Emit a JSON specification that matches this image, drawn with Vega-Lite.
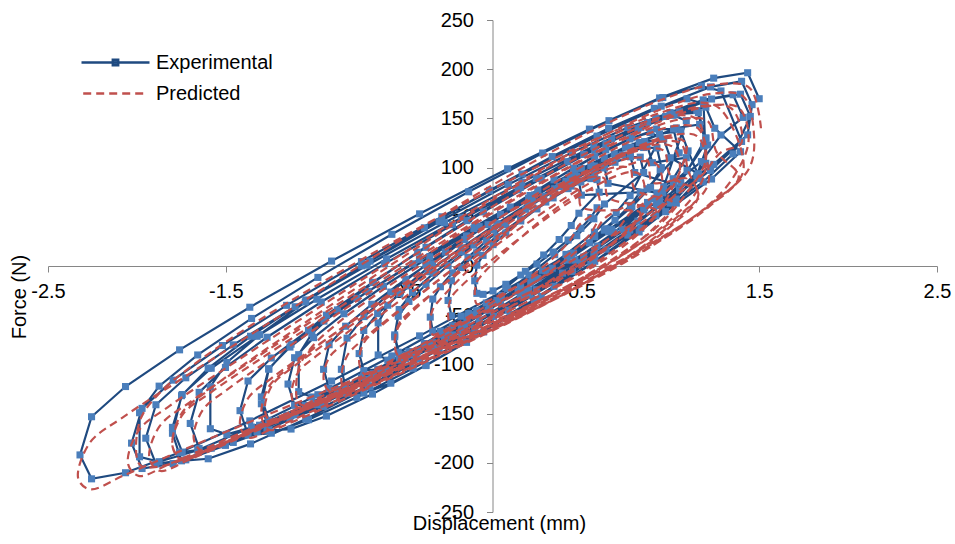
{
  "$schema": "https://vega.github.io/schema/vega-lite/v6.json",
  "width": 889,
  "height": 492,
  "autosize": {"type": "none"},
  "padding": {"left": 48, "top": 20, "right": 18, "bottom": 32},
  "background": "white",
  "config": {"view": {"stroke": null}, "font": "Liberation Sans"},
  "datasets": {
    "exp": [
      {"x":1.5,"y":170},{"x":1.435,"y":196.4},{"x":1.244,"y":190.9},{"x":0.94,"y":170.8},{"x":0.545,"y":139.1},{"x":0.085,"y":98.8},{"x":-0.41,"y":53},{"x":-0.905,"y":5},{"x":-1.365,"y":-41.9},{"x":-1.76,"y":-85.2},{"x":-2.064,"y":-122.5},{"x":-2.255,"y":-153.2},{"x":-2.32,"y":-192},{"x":-2.255,"y":-216.3},{"x":-2.064,"y":-210.1},{"x":-1.76,"y":-189.5},{"x":-1.365,"y":-157.4},{"x":-0.905,"y":-116.9},{"x":-0.41,"y":-71},{"x":0.085,"y":-23.1},{"x":0.545,"y":23.6},{"x":0.94,"y":66.5},{"x":1.244,"y":103.3},{"x":1.435,"y":133.3},
      {"x":1.46,"y":164},{"x":1.401,"y":187.7},{"x":1.226,"y":182},{"x":0.949,"y":162.4},{"x":0.588,"y":132},{"x":0.167,"y":93.5},{"x":-0.285,"y":50},{"x":-0.737,"y":4.5},{"x":-1.158,"y":-40},{"x":-1.519,"y":-80.8},{"x":-1.796,"y":-116},{"x":-1.971,"y":-144.7},{"x":-2.03,"y":-180},{"x":-1.971,"y":-205.8},{"x":-1.796,"y":-200.8},{"x":-1.519,"y":-181.7},{"x":-1.158,"y":-151.7},{"x":-0.737,"y":-113.4},{"x":-0.285,"y":-70},{"x":0.167,"y":-24.4},{"x":0.588,"y":20.3},{"x":0.949,"y":61.5},{"x":1.226,"y":97.2},{"x":1.401,"y":126.6},
      {"x":1.285,"y":177.9},{"x":1.175,"y":182.9},{"x":0.958,"y":171.2},{"x":0.655,"y":147.7},{"x":0.282,"y":114.8},{"x":-0.134,"y":75.4},{"x":-0.566,"y":32.2},{"x":-0.982,"y":-11.6},{"x":-1.355,"y":-53.3},{"x":-1.658,"y":-90.4},{"x":-1.875,"y":-122.1},{"x":-1.985,"y":-149.1},{"x":-1.985,"y":-193.9},{"x":-1.875,"y":-198.9},{"x":-1.658,"y":-187.2},{"x":-1.355,"y":-163.7},{"x":-0.982,"y":-130.8},{"x":-0.566,"y":-91.4},{"x":-0.134,"y":-48.2},{"x":0.282,"y":-4.4},{"x":0.655,"y":37.3},{"x":0.958,"y":74.4},{"x":1.175,"y":106.1},{"x":1.285,"y":133.1},
      {"x":1.41,"y":151},{"x":1.353,"y":174},{"x":1.185,"y":168.8},{"x":0.918,"y":150.3},{"x":0.57,"y":121.6},{"x":0.165,"y":85.2},{"x":-0.27,"y":44},{"x":-0.705,"y":0.8},{"x":-1.11,"y":-41.4},{"x":-1.458,"y":-80.1},{"x":-1.725,"y":-113.6},{"x":-1.893,"y":-141},{"x":-1.95,"y":-175},{"x":-1.893,"y":-201.1},{"x":-1.725,"y":-197},{"x":-1.458,"y":-179.3},{"x":-1.11,"y":-151.2},{"x":-0.705,"y":-115.1},{"x":-0.27,"y":-74},{"x":0.165,"y":-30.7},{"x":0.57,"y":11.8},{"x":0.918,"y":51.1},{"x":1.185,"y":85.4},{"x":1.353,"y":113.9},
      {"x":1.45,"y":152},{"x":1.395,"y":174.6},{"x":1.232,"y":169.7},{"x":0.974,"y":152},{"x":0.638,"y":124.2},{"x":0.246,"y":89},{"x":-0.175,"y":49},{"x":-0.596,"y":7.2},{"x":-0.988,"y":-33.8},{"x":-1.324,"y":-71.4},{"x":-1.582,"y":-103.9},{"x":-1.745,"y":-130.6},{"x":-1.8,"y":-164},{"x":-1.745,"y":-189.1},{"x":-1.582,"y":-185.2},{"x":-1.324,"y":-168.2},{"x":-0.988,"y":-140.9},{"x":-0.596,"y":-105.9},{"x":-0.175,"y":-66},{"x":0.246,"y":-24.1},{"x":0.638,"y":17.1},{"x":0.974,"y":55.2},{"x":1.232,"y":88.4},{"x":1.395,"y":116.1},
      {"x":1.25,"y":140},{"x":1.2,"y":161.4},{"x":1.052,"y":156.7},{"x":0.818,"y":139.8},{"x":0.513,"y":113.4},{"x":0.157,"y":80},{"x":-0.225,"y":42},{"x":-0.607,"y":2.2},{"x":-0.963,"y":-36.6},{"x":-1.268,"y":-72.4},{"x":-1.502,"y":-103.1},{"x":-1.65,"y":-128.4},{"x":-1.7,"y":-160},{"x":-1.65,"y":-185.4},{"x":-1.502,"y":-182.3},{"x":-1.268,"y":-166.6},{"x":-0.963,"y":-140.9},{"x":-0.607,"y":-107.9},{"x":-0.225,"y":-70},{"x":0.157,"y":-30.1},{"x":0.513,"y":9.1},{"x":0.818,"y":45.6},{"x":1.052,"y":77.5},{"x":1.2,"y":104.4},
      {"x":1.187,"y":164.7},{"x":1.094,"y":169.9},{"x":0.91,"y":160.2},{"x":0.653,"y":140},{"x":0.336,"y":111.2},{"x":-0.017,"y":76.8},{"x":-0.383,"y":38.8},{"x":-0.736,"y":0.2},{"x":-1.053,"y":-36.6},{"x":-1.31,"y":-69.8},{"x":-1.494,"y":-98.1},{"x":-1.587,"y":-122.7},{"x":-1.587,"y":-165.4},{"x":-1.494,"y":-171.1},{"x":-1.31,"y":-161.8},{"x":-1.053,"y":-141.8},{"x":-0.736,"y":-113.2},{"x":-0.383,"y":-78.8},{"x":-0.017,"y":-40.8},{"x":0.336,"y":-2.2},{"x":0.653,"y":34.8},{"x":0.91,"y":68.2},{"x":1.094,"y":96.9},{"x":1.187,"y":122},
      {"x":1.2,"y":130},{"x":1.149,"y":158},{"x":0.999,"y":155.9},{"x":0.761,"y":140.8},{"x":0.45,"y":115.5},{"x":0.089,"y":82.8},{"x":-0.3,"y":45},{"x":-0.689,"y":5},{"x":-1.05,"y":-34.5},{"x":-1.361,"y":-71.4},{"x":-1.599,"y":-103.9},{"x":-1.749,"y":-131.8},{"x":-1.8,"y":-170},{"x":-1.749,"y":-198},{"x":-1.599,"y":-195.9},{"x":-1.361,"y":-180.8},{"x":-1.05,"y":-155.5},{"x":-0.689,"y":-122.8},{"x":-0.3,"y":-85},{"x":0.089,"y":-45},{"x":0.45,"y":-5.5},{"x":0.761,"y":31.4},{"x":0.999,"y":63.9},{"x":1.149,"y":91.8},
      {"x":1.21,"y":123},{"x":1.165,"y":143.9},{"x":1.034,"y":140.3},{"x":0.825,"y":125.5},{"x":0.553,"y":102.1},{"x":0.236,"y":72.2},{"x":-0.105,"y":38},{"x":-0.446,"y":2.2},{"x":-0.763,"y":-32.9},{"x":-1.035,"y":-65.3},{"x":-1.244,"y":-93.5},{"x":-1.375,"y":-116.9},{"x":-1.42,"y":-147},{"x":-1.375,"y":-171.9},{"x":-1.244,"y":-169.9},{"x":-1.035,"y":-156.2},{"x":-0.763,"y":-133.5},{"x":-0.446,"y":-104},{"x":-0.105,"y":-70},{"x":0.236,"y":-34},{"x":0.553,"y":1.5},{"x":0.825,"y":34.6},{"x":1.034,"y":63.9},{"x":1.165,"y":88.9},
      {"x":1.1,"y":117},{"x":1.059,"y":137.2},{"x":0.939,"y":134.2},{"x":0.748,"y":120.8},{"x":0.5,"y":99.2},{"x":0.211,"y":71.6},{"x":-0.1,"y":40},{"x":-0.411,"y":6.8},{"x":-0.7,"y":-25.8},{"x":-0.948,"y":-56},{"x":-1.139,"y":-82.4},{"x":-1.259,"y":-104.4},{"x":-1.3,"y":-133},{"x":-1.259,"y":-156.8},{"x":-1.139,"y":-155.2},{"x":-0.948,"y":-142.7},{"x":-0.7,"y":-121.7},{"x":-0.411,"y":-94.5},{"x":-0.1,"y":-63},{"x":0.211,"y":-29.7},{"x":0.5,"y":3.3},{"x":0.748,"y":34.1},{"x":0.939,"y":61.4},{"x":1.059,"y":84.8},
      {"x":1.2,"y":130},{"x":1.158,"y":155.9},{"x":1.033,"y":154.3},{"x":0.834,"y":140.9},{"x":0.575,"y":118.4},{"x":0.274,"y":89},{"x":-0.05,"y":55},{"x":-0.374,"y":19},{"x":-0.675,"y":-16.6},{"x":-0.934,"y":-49.9},{"x":-1.133,"y":-79.5},{"x":-1.258,"y":-104.9},{"x":-1.3,"y":-140},{"x":-1.258,"y":-167},{"x":-1.133,"y":-165.7},{"x":-0.934,"y":-152.5},{"x":-0.675,"y":-130.2},{"x":-0.374,"y":-100.9},{"x":-0.05,"y":-67},{"x":0.274,"y":-30.9},{"x":0.575,"y":4.8},{"x":0.834,"y":38.3},{"x":1.033,"y":68.1},{"x":1.158,"y":93.8},
      {"x":1,"y":110},{"x":0.963,"y":129},{"x":0.856,"y":126.4},{"x":0.685,"y":114.1},{"x":0.463,"y":94.4},{"x":0.203,"y":69},{"x":-0.075,"y":40},{"x":-0.353,"y":9.4},{"x":-0.613,"y":-20.6},{"x":-0.835,"y":-48.5},{"x":-1.006,"y":-72.8},{"x":-1.113,"y":-93.2},{"x":-1.15,"y":-120},{"x":-1.113,"y":-141.6},{"x":-1.006,"y":-140},{"x":-0.835,"y":-128.4},{"x":-0.613,"y":-109.1},{"x":-0.353,"y":-84},{"x":-0.075,"y":-55},{"x":0.203,"y":-24.4},{"x":0.463,"y":5.9},{"x":0.685,"y":34.2},{"x":0.856,"y":59.2},{"x":0.963,"y":80.6},
      {"x":1.09,"y":147.7},{"x":1.016,"y":153.1},{"x":0.872,"y":145.8},{"x":0.67,"y":129.4},{"x":0.421,"y":106},{"x":0.144,"y":77.5},{"x":-0.144,"y":46.1},{"x":-0.421,"y":14},{"x":-0.67,"y":-16.8},{"x":-0.872,"y":-44.6},{"x":-1.016,"y":-68.7},{"x":-1.09,"y":-90.1},{"x":-1.09,"y":-127.7},{"x":-1.016,"y":-133.1},{"x":-0.872,"y":-125.8},{"x":-0.67,"y":-109.4},{"x":-0.421,"y":-86},{"x":-0.144,"y":-57.5},{"x":0.144,"y":-26.1},{"x":0.421,"y":6},{"x":0.67,"y":36.8},{"x":0.872,"y":64.6},{"x":1.016,"y":88.7},{"x":1.09,"y":110.1},
      {"x":0.9,"y":105},{"x":0.869,"y":122.8},{"x":0.776,"y":120.6},{"x":0.629,"y":109.5},{"x":0.438,"y":91.6},{"x":0.215,"y":68.5},{"x":-0.025,"y":42},{"x":-0.265,"y":14.1},{"x":-0.488,"y":-13.4},{"x":-0.679,"y":-38.9},{"x":-0.826,"y":-61.2},{"x":-0.919,"y":-80},{"x":-0.95,"y":-105},{"x":-0.919,"y":-124.3},{"x":-0.826,"y":-122.7},{"x":-0.679,"y":-112},{"x":-0.488,"y":-94.4},{"x":-0.265,"y":-71.4},{"x":-0.025,"y":-45},{"x":0.215,"y":-17},{"x":0.438,"y":10.6},{"x":0.629,"y":36.4},{"x":0.776,"y":59.1},{"x":0.869,"y":78.5},
      {"x":1.05,"y":115},{"x":1.018,"y":139.3},{"x":0.923,"y":139.2},{"x":0.772,"y":129.1},{"x":0.575,"y":111.2},{"x":0.346,"y":87.6},{"x":0.1,"y":60},{"x":-0.146,"y":30.6},{"x":-0.375,"y":1.2},{"x":-0.572,"y":-26.5},{"x":-0.723,"y":-51.4},{"x":-0.818,"y":-73.3},{"x":-0.85,"y":-105},{"x":-0.818,"y":-129.3},{"x":-0.723,"y":-129.2},{"x":-0.572,"y":-119.1},{"x":-0.375,"y":-101.2},{"x":-0.146,"y":-77.6},{"x":0.1,"y":-50},{"x":0.346,"y":-20.6},{"x":0.575,"y":8.8},{"x":0.772,"y":36.5},{"x":0.923,"y":61.4},{"x":1.018,"y":83.3},
      {"x":0.8,"y":95},{"x":0.774,"y":112.3},{"x":0.696,"y":111},{"x":0.573,"y":101.6},{"x":0.413,"y":86.2},{"x":0.226,"y":66.1},{"x":0.025,"y":43},{"x":-0.176,"y":18.5},{"x":-0.363,"y":-5.8},{"x":-0.523,"y":-28.4},{"x":-0.646,"y":-48.4},{"x":-0.724,"y":-65.5},{"x":-0.75,"y":-89},{"x":-0.724,"y":-106.3},{"x":-0.646,"y":-105},{"x":-0.523,"y":-95.6},{"x":-0.363,"y":-80.2},{"x":-0.176,"y":-60.1},{"x":0.025,"y":-37},{"x":0.226,"y":-12.5},{"x":0.413,"y":11.8},{"x":0.573,"y":34.4},{"x":0.696,"y":54.4},{"x":0.774,"y":71.5},
      {"x":0.943,"y":130.4},{"x":0.889,"y":135.7},{"x":0.784,"y":130.4},{"x":0.637,"y":118},{"x":0.456,"y":99.6},{"x":0.255,"y":77.2},{"x":0.045,"y":52.4},{"x":-0.156,"y":26.8},{"x":-0.337,"y":2.2},{"x":-0.484,"y":-20.2},{"x":-0.589,"y":-39.9},{"x":-0.643,"y":-57.8},{"x":-0.643,"y":-90.4},{"x":-0.589,"y":-95.7},{"x":-0.484,"y":-90.4},{"x":-0.337,"y":-78},{"x":-0.156,"y":-59.6},{"x":0.045,"y":-37.2},{"x":0.255,"y":-12.4},{"x":0.456,"y":13.2},{"x":0.637,"y":37.8},{"x":0.784,"y":60.2},{"x":0.889,"y":79.9},{"x":0.943,"y":97.8},
      {"x":0.95,"y":100},{"x":0.925,"y":120},{"x":0.85,"y":120.4},{"x":0.73,"y":112.9},{"x":0.575,"y":99.4},{"x":0.394,"y":81.2},{"x":0.2,"y":60},{"x":0.006,"y":37.2},{"x":-0.175,"y":14.4},{"x":-0.33,"y":-7.3},{"x":-0.45,"y":-26.8},{"x":-0.525,"y":-44.2},{"x":-0.55,"y":-70},{"x":-0.525,"y":-90},{"x":-0.45,"y":-90.4},{"x":-0.33,"y":-82.9},{"x":-0.175,"y":-69.4},{"x":0.006,"y":-51.2},{"x":0.2,"y":-30},{"x":0.394,"y":-7.2},{"x":0.575,"y":15.6},{"x":0.73,"y":37.3},{"x":0.85,"y":56.8},{"x":0.925,"y":74.2},
      {"x":0.65,"y":84},{"x":0.63,"y":99.6},{"x":0.57,"y":99},{"x":0.474,"y":91.4},{"x":0.35,"y":78.5},{"x":0.205,"y":61.6},{"x":0.05,"y":42},{"x":-0.105,"y":21.2},{"x":-0.25,"y":0.5},{"x":-0.374,"y":-18.8},{"x":-0.47,"y":-36},{"x":-0.53,"y":-51},{"x":-0.55,"y":-72},{"x":-0.53,"y":-87.6},{"x":-0.47,"y":-87},{"x":-0.374,"y":-79.4},{"x":-0.25,"y":-66.5},{"x":-0.105,"y":-49.6},{"x":0.05,"y":-30},{"x":0.205,"y":-9.2},{"x":0.35,"y":11.5},{"x":0.474,"y":30.8},{"x":0.57,"y":48},{"x":0.63,"y":63},
      {"x":0.85,"y":95},{"x":0.831,"y":110.6},{"x":0.776,"y":111},{"x":0.689,"y":105.4},{"x":0.575,"y":95.1},{"x":0.442,"y":81.2},{"x":0.3,"y":65},{"x":0.158,"y":47.6},{"x":0.025,"y":30.1},{"x":-0.089,"y":13.4},{"x":-0.176,"y":-1.6},{"x":-0.231,"y":-15},{"x":-0.25,"y":-35},{"x":-0.231,"y":-50.6},{"x":-0.176,"y":-51},{"x":-0.089,"y":-45.4},{"x":0.025,"y":-35.1},{"x":0.158,"y":-21.2},{"x":0.3,"y":-5},{"x":0.442,"y":12.4},{"x":0.575,"y":29.9},{"x":0.689,"y":46.6},{"x":0.776,"y":61.6},{"x":0.831,"y":75},
      {"x":0.5,"y":72},{"x":0.486,"y":86.2},{"x":0.443,"y":86.3},{"x":0.375,"y":80.7},{"x":0.288,"y":70.8},{"x":0.185,"y":57.6},{"x":0.075,"y":42},{"x":-0.035,"y":25.4},{"x":-0.138,"y":8.8},{"x":-0.225,"y":-6.9},{"x":-0.293,"y":-21.1},{"x":-0.336,"y":-33.6},{"x":-0.35,"y":-52},{"x":-0.336,"y":-66.2},{"x":-0.293,"y":-66.3},{"x":-0.225,"y":-60.7},{"x":-0.138,"y":-50.8},{"x":-0.035,"y":-37.6},{"x":0.075,"y":-22},{"x":0.185,"y":-5.4},{"x":0.288,"y":11.2},{"x":0.375,"y":26.9},{"x":0.443,"y":41.1},{"x":0.486,"y":53.6},
      {"x":0.6,"y":75},{"x":0.588,"y":87.8},{"x":0.553,"y":88.8},{"x":0.497,"y":85.3},{"x":0.425,"y":78.6},{"x":0.341,"y":69.2},{"x":0.25,"y":58},{"x":0.159,"y":45.8},{"x":0.075,"y":33.6},{"x":0.003,"y":21.7},{"x":-0.053,"y":10.8},{"x":-0.088,"y":0.8},{"x":-0.1,"y":-15},{"x":-0.088,"y":-27.8},{"x":-0.053,"y":-28.8},{"x":0.003,"y":-25.3},{"x":0.075,"y":-18.6},{"x":0.159,"y":-9.2},{"x":0.25,"y":2},{"x":0.341,"y":14.2},{"x":0.425,"y":26.4},{"x":0.497,"y":38.3},{"x":0.553,"y":49.2},{"x":0.588,"y":59.2}
    ],
    "pred": [
      {"x":1.51,"y":140},{"x":1.445,"y":181.1},{"x":1.253,"y":184.5},{"x":0.947,"y":168.7},{"x":0.55,"y":136.5},{"x":0.087,"y":91.3},{"x":-0.41,"y":38},{"x":-0.907,"y":-17.9},{"x":-1.37,"y":-70.9},{"x":-1.767,"y":-116.9},{"x":-2.073,"y":-153.1},{"x":-2.265,"y":-179.7},{"x":-2.33,"y":-216},{"x":-2.265,"y":-226.9},{"x":-2.073,"y":-212.8},{"x":-1.767,"y":-188.9},{"x":-1.37,"y":-158.9},{"x":-0.907,"y":-124.8},{"x":-0.41,"y":-88},{"x":0.087,"y":-49.6},{"x":0.55,"y":-10.3},{"x":0.947,"y":28.7},{"x":1.253,"y":66},{"x":1.445,"y":99.9},
      {"x":1.47,"y":135},{"x":1.41,"y":172.4},{"x":1.234,"y":175},{"x":0.954,"y":159.7},{"x":0.59,"y":129.2},{"x":0.166,"y":86.8},{"x":-0.29,"y":37},{"x":-0.746,"y":-15.2},{"x":-1.17,"y":-64.8},{"x":-1.534,"y":-107.9},{"x":-1.814,"y":-142},{"x":-1.99,"y":-167.2},{"x":-2.05,"y":-201},{"x":-1.99,"y":-213.3},{"x":-1.814,"y":-200.9},{"x":-1.534,"y":-178.9},{"x":-1.17,"y":-150.6},{"x":-0.746,"y":-118.2},{"x":-0.29,"y":-83},{"x":0.166,"y":-46.2},{"x":0.59,"y":-8.6},{"x":0.954,"y":28.7},{"x":1.234,"y":64.1},{"x":1.41,"y":96.3},
      {"x":1.285,"y":158.9},{"x":1.175,"y":166.1},{"x":0.958,"y":156.5},{"x":0.655,"y":134.8},{"x":0.282,"y":103.6},{"x":-0.134,"y":65.7},{"x":-0.566,"y":23.7},{"x":-0.982,"y":-19},{"x":-1.355,"y":-60},{"x":-1.658,"y":-97.3},{"x":-1.875,"y":-129.5},{"x":-1.985,"y":-158.3},{"x":-1.985,"y":-201.7},{"x":-1.875,"y":-203.8},{"x":-1.658,"y":-190.9},{"x":-1.355,"y":-167},{"x":-0.982,"y":-134.4},{"x":-0.566,"y":-95.8},{"x":-0.134,"y":-53.8},{"x":0.282,"y":-11.8},{"x":0.655,"y":27.8},{"x":0.958,"y":62.9},{"x":1.175,"y":91.8},{"x":1.285,"y":115.5},
      {"x":1.4,"y":125},{"x":1.343,"y":160.2},{"x":1.177,"y":162.4},{"x":0.912,"y":147.6},{"x":0.568,"y":118.5},{"x":0.166,"y":78.3},{"x":-0.265,"y":31},{"x":-0.696,"y":-18.5},{"x":-1.098,"y":-65.7},{"x":-1.442,"y":-106.6},{"x":-1.707,"y":-139},{"x":-1.873,"y":-163},{"x":-1.93,"y":-195},{"x":-1.873,"y":-208.1},{"x":-1.707,"y":-196.9},{"x":-1.442,"y":-176.2},{"x":-1.098,"y":-149.5},{"x":-0.696,"y":-118.6},{"x":-0.265,"y":-85},{"x":0.166,"y":-49.8},{"x":0.568,"y":-13.7},{"x":0.912,"y":22},{"x":1.177,"y":56.1},{"x":1.343,"y":87.1},
      {"x":1.44,"y":127},{"x":1.385,"y":160.8},{"x":1.223,"y":162.7},{"x":0.965,"y":148.4},{"x":0.63,"y":120.4},{"x":0.24,"y":81.5},{"x":-0.18,"y":36},{"x":-0.6,"y":-11.7},{"x":-0.99,"y":-57.2},{"x":-1.325,"y":-96.8},{"x":-1.583,"y":-128.3},{"x":-1.745,"y":-151.6},{"x":-1.8,"y":-183},{"x":-1.745,"y":-195.6},{"x":-1.583,"y":-184.8},{"x":-1.325,"y":-165},{"x":-0.99,"y":-138.9},{"x":-0.6,"y":-108.8},{"x":-0.18,"y":-76},{"x":0.24,"y":-41.6},{"x":0.63,"y":-6.5},{"x":0.965,"y":28.2},{"x":1.223,"y":61},{"x":1.385,"y":90.8},
      {"x":1.26,"y":116},{"x":1.21,"y":147.5},{"x":1.063,"y":149.2},{"x":0.829,"y":135.7},{"x":0.525,"y":109.3},{"x":0.171,"y":72.8},{"x":-0.21,"y":30},{"x":-0.591,"y":-14.8},{"x":-0.945,"y":-57.5},{"x":-1.249,"y":-94.7},{"x":-1.483,"y":-124.4},{"x":-1.63,"y":-146.5},{"x":-1.68,"y":-176},{"x":-1.63,"y":-188.4},{"x":-1.483,"y":-178.5},{"x":-1.249,"y":-159.9},{"x":-0.945,"y":-135.4},{"x":-0.591,"y":-107},{"x":-0.21,"y":-76},{"x":0.171,"y":-43.4},{"x":0.525,"y":-10.2},{"x":0.829,"y":22.5},{"x":1.063,"y":53.5},{"x":1.21,"y":81.6},
      {"x":1.2,"y":113},{"x":1.149,"y":149.1},{"x":0.999,"y":152.6},{"x":0.761,"y":139.8},{"x":0.45,"y":113.6},{"x":0.089,"y":76.6},{"x":-0.3,"y":33},{"x":-0.689,"y":-13},{"x":-1.05,"y":-57},{"x":-1.361,"y":-95.4},{"x":-1.599,"y":-126.4},{"x":-1.749,"y":-149.9},{"x":-1.8,"y":-183},{"x":-1.749,"y":-197},{"x":-1.599,"y":-187.3},{"x":-1.361,"y":-168.7},{"x":-1.05,"y":-144.3},{"x":-0.689,"y":-116},{"x":-0.3,"y":-85},{"x":0.089,"y":-52.4},{"x":0.45,"y":-18.9},{"x":0.761,"y":14.5},{"x":0.999,"y":46.5},{"x":1.149,"y":76},
      {"x":1.2,"y":102},{"x":1.155,"y":131.5},{"x":1.024,"y":133.4},{"x":0.816,"y":121.4},{"x":0.545,"y":97.6},{"x":0.229,"y":64.7},{"x":-0.11,"y":26},{"x":-0.449,"y":-14.7},{"x":-0.765,"y":-53.4},{"x":-1.036,"y":-87.2},{"x":-1.244,"y":-114.2},{"x":-1.375,"y":-134.5},{"x":-1.42,"y":-162},{"x":-1.375,"y":-174.4},{"x":-1.244,"y":-165.9},{"x":-1.036,"y":-149.3},{"x":-0.765,"y":-127.5},{"x":-0.449,"y":-102},{"x":-0.11,"y":-74},{"x":0.229,"y":-44.6},{"x":0.545,"y":-14.5},{"x":0.816,"y":15.3},{"x":1.024,"y":43.7},{"x":1.155,"y":69.6},
      {"x":1.1,"y":97},{"x":1.06,"y":124.4},{"x":0.941,"y":126.2},{"x":0.751,"y":115},{"x":0.505,"y":93.1},{"x":0.218,"y":62.7},{"x":-0.09,"y":27},{"x":-0.398,"y":-10.5},{"x":-0.685,"y":-46.3},{"x":-0.931,"y":-77.6},{"x":-1.121,"y":-102.6},{"x":-1.24,"y":-121.4},{"x":-1.28,"y":-147},{"x":-1.24,"y":-159.3},{"x":-1.121,"y":-151.7},{"x":-0.931,"y":-136.6},{"x":-0.685,"y":-116.4},{"x":-0.398,"y":-92.9},{"x":-0.09,"y":-67},{"x":0.218,"y":-39.7},{"x":0.505,"y":-11.8},{"x":0.751,"y":16},{"x":0.941,"y":42.3},{"x":1.06,"y":66.5},
      {"x":1.2,"y":108},{"x":1.158,"y":139.6},{"x":1.033,"y":142.5},{"x":0.834,"y":131.4},{"x":0.575,"y":108.4},{"x":0.274,"y":76.2},{"x":-0.05,"y":38},{"x":-0.374,"y":-2.2},{"x":-0.675,"y":-40.6},{"x":-0.934,"y":-74.4},{"x":-1.133,"y":-101.7},{"x":-1.258,"y":-122.6},{"x":-1.3,"y":-152},{"x":-1.258,"y":-166.5},{"x":-1.133,"y":-159},{"x":-0.934,"y":-143.3},{"x":-0.675,"y":-122.2},{"x":-0.374,"y":-97.4},{"x":-0.05,"y":-70},{"x":0.274,"y":-41},{"x":0.575,"y":-11.2},{"x":0.834,"y":18.5},{"x":1.033,"y":47.2},{"x":1.158,"y":73.7},
      {"x":1,"y":92},{"x":0.964,"y":117.1},{"x":0.857,"y":118.7},{"x":0.688,"y":108.6},{"x":0.468,"y":88.5},{"x":0.211,"y":60.7},{"x":-0.065,"y":28},{"x":-0.341,"y":-6.3},{"x":-0.598,"y":-39.1},{"x":-0.818,"y":-67.8},{"x":-0.987,"y":-90.9},{"x":-1.094,"y":-108.3},{"x":-1.13,"y":-132},{"x":-1.094,"y":-144.1},{"x":-0.987,"y":-137.5},{"x":-0.818,"y":-123.8},{"x":-0.598,"y":-105.4},{"x":-0.341,"y":-83.8},{"x":-0.065,"y":-60},{"x":0.211,"y":-34.8},{"x":0.468,"y":-9},{"x":0.688,"y":16.6},{"x":0.857,"y":40.9},{"x":0.964,"y":63.3},
      {"x":1.09,"y":123.9},{"x":1.016,"y":130.3},{"x":0.872,"y":124.1},{"x":0.67,"y":109},{"x":0.421,"y":86.9},{"x":0.144,"y":59.9},{"x":-0.144,"y":29.7},{"x":-0.421,"y":-1.1},{"x":-0.67,"y":-31},{"x":-0.872,"y":-58.3},{"x":-1.016,"y":-82.3},{"x":-1.09,"y":-104.1},{"x":-1.09,"y":-139.2},{"x":-1.016,"y":-142.3},{"x":-0.872,"y":-134},{"x":-0.67,"y":-117.4},{"x":-0.421,"y":-94.4},{"x":-0.144,"y":-66.9},{"x":0.144,"y":-36.7},{"x":0.421,"y":-6.4},{"x":0.67,"y":22.6},{"x":0.872,"y":48.4},{"x":1.016,"y":70.3},{"x":1.09,"y":88.8},
      {"x":0.9,"y":85},{"x":0.869,"y":108},{"x":0.776,"y":109.6},{"x":0.629,"y":100.7},{"x":0.438,"y":82.9},{"x":0.215,"y":58.2},{"x":-0.025,"y":29},{"x":-0.265,"y":-1.6},{"x":-0.488,"y":-30.9},{"x":-0.679,"y":-56.7},{"x":-0.826,"y":-77.4},{"x":-0.919,"y":-93.2},{"x":-0.95,"y":-115},{"x":-0.919,"y":-126.9},{"x":-0.826,"y":-121.6},{"x":-0.679,"y":-109.7},{"x":-0.488,"y":-93.5},{"x":-0.265,"y":-74.3},{"x":-0.025,"y":-53},{"x":0.215,"y":-30.5},{"x":0.438,"y":-7.3},{"x":0.629,"y":15.7},{"x":0.776,"y":37.8},{"x":0.869,"y":58.3},
      {"x":1.05,"y":93},{"x":1.018,"y":120.4},{"x":0.923,"y":123.5},{"x":0.772,"y":114.9},{"x":0.575,"y":96.7},{"x":0.346,"y":70.8},{"x":0.1,"y":40},{"x":-0.146,"y":7.4},{"x":-0.375,"y":-23.9},{"x":-0.572,"y":-51.5},{"x":-0.723,"y":-73.9},{"x":-0.818,"y":-91.4},{"x":-0.85,"y":-117},{"x":-0.818,"y":-130.3},{"x":-0.723,"y":-124.8},{"x":-0.572,"y":-112.5},{"x":-0.375,"y":-95.8},{"x":-0.146,"y":-76},{"x":0.1,"y":-54},{"x":0.346,"y":-30.6},{"x":0.575,"y":-6.4},{"x":0.772,"y":17.9},{"x":0.923,"y":41.4},{"x":1.018,"y":63.5},
      {"x":0.8,"y":78},{"x":0.774,"y":98.9},{"x":0.696,"y":100.6},{"x":0.573,"y":92.8},{"x":0.413,"y":77.3},{"x":0.226,"y":55.6},{"x":0.025,"y":30},{"x":-0.176,"y":3},{"x":-0.363,"y":-22.9},{"x":-0.523,"y":-45.6},{"x":-0.646,"y":-64},{"x":-0.724,"y":-78.1},{"x":-0.75,"y":-98},{"x":-0.724,"y":-109.3},{"x":-0.646,"y":-104.8},{"x":-0.523,"y":-94.6},{"x":-0.363,"y":-80.5},{"x":-0.176,"y":-63.7},{"x":0.025,"y":-45},{"x":0.226,"y":-25.1},{"x":0.413,"y":-4.7},{"x":0.573,"y":15.8},{"x":0.696,"y":35.4},{"x":0.774,"y":53.7},
      {"x":0.95,"y":80},{"x":0.925,"y":103.2},{"x":0.85,"y":106.5},{"x":0.73,"y":100.6},{"x":0.575,"y":87.1},{"x":0.394,"y":67.5},{"x":0.2,"y":44},{"x":0.006,"y":19.1},{"x":-0.175,"y":-5.1},{"x":-0.33,"y":-26.6},{"x":-0.45,"y":-44.3},{"x":-0.525,"y":-58.4},{"x":-0.55,"y":-80},{"x":-0.525,"y":-92.1},{"x":-0.45,"y":-88.7},{"x":-0.33,"y":-79.9},{"x":-0.175,"y":-67.4},{"x":0.006,"y":-52.6},{"x":0.2,"y":-36},{"x":0.394,"y":-18.2},{"x":0.575,"y":0.4},{"x":0.73,"y":19.3},{"x":0.85,"y":37.7},{"x":0.925,"y":55.5},
      {"x":0.65,"y":70},{"x":0.63,"y":88.8},{"x":0.57,"y":90.7},{"x":0.474,"y":84.3},{"x":0.35,"y":71.2},{"x":0.205,"y":52.8},{"x":0.05,"y":31},{"x":-0.105,"y":8},{"x":-0.25,"y":-14.2},{"x":-0.374,"y":-33.7},{"x":-0.47,"y":-49.7},{"x":-0.53,"y":-62.2},{"x":-0.55,"y":-80},{"x":-0.53,"y":-90.8},{"x":-0.47,"y":-87.4},{"x":-0.374,"y":-78.9},{"x":-0.25,"y":-67.1},{"x":-0.105,"y":-52.9},{"x":0.05,"y":-37},{"x":0.205,"y":-20.1},{"x":0.35,"y":-2.5},{"x":0.474,"y":15.1},{"x":0.57,"y":32.2},{"x":0.63,"y":48.2},
      {"x":0.85,"y":74},{"x":0.831,"y":92.7},{"x":0.776,"y":95.5},{"x":0.689,"y":91.1},{"x":0.575,"y":80.8},{"x":0.442,"y":66},{"x":0.3,"y":48},{"x":0.158,"y":28.8},{"x":0.025,"y":10.2},{"x":-0.089,"y":-6.5},{"x":-0.176,"y":-20.5},{"x":-0.231,"y":-32.1},{"x":-0.25,"y":-50},{"x":-0.231,"y":-60.7},{"x":-0.176,"y":-58.6},{"x":-0.089,"y":-52},{"x":0.025,"y":-42.6},{"x":0.158,"y":-31.1},{"x":0.3,"y":-18},{"x":0.442,"y":-3.9},{"x":0.575,"y":10.8},{"x":0.689,"y":25.6},{"x":0.776,"y":40.2},{"x":0.831,"y":54.1},
      {"x":0.5,"y":60},{"x":0.486,"y":76.8},{"x":0.443,"y":78.9},{"x":0.375,"y":74.3},{"x":0.288,"y":64.1},{"x":0.185,"y":49.5},{"x":0.075,"y":32},{"x":-0.035,"y":13.5},{"x":-0.138,"y":-4.5},{"x":-0.225,"y":-20.5},{"x":-0.293,"y":-33.7},{"x":-0.336,"y":-44.2},{"x":-0.35,"y":-60},{"x":-0.336,"y":-69.8},{"x":-0.293,"y":-67.5},{"x":-0.225,"y":-60.9},{"x":-0.138,"y":-51.8},{"x":-0.035,"y":-40.5},{"x":0.075,"y":-28},{"x":0.185,"y":-14.5},{"x":0.288,"y":-0.4},{"x":0.375,"y":13.9},{"x":0.443,"y":27.9},{"x":0.486,"y":41.2},
      {"x":0.6,"y":60},{"x":0.588,"y":74.8},{"x":0.553,"y":77.3},{"x":0.497,"y":74.3},{"x":0.425,"y":67.1},{"x":0.341,"y":56.2},{"x":0.25,"y":43},{"x":0.159,"y":28.8},{"x":0.075,"y":15.1},{"x":0.003,"y":2.7},{"x":-0.053,"y":-7.7},{"x":-0.088,"y":-16.2},{"x":-0.1,"y":-30},{"x":-0.088,"y":-38.7},{"x":-0.053,"y":-37.5},{"x":0.003,"y":-33},{"x":0.075,"y":-26.3},{"x":0.159,"y":-18.3},{"x":0.25,"y":-9},{"x":0.341,"y":1.1},{"x":0.425,"y":11.7},{"x":0.497,"y":22.6},{"x":0.553,"y":33.5},{"x":0.588,"y":44.3}
    ]
  },
  "encoding": {
    "x": {
      "field": "x",
      "type": "quantitative",
      "scale": {"domain": [-2.5, 2.5], "nice": false, "zero": false},
      "axis": {
        "orient": "bottom",
        "offset": -246,
        "values": [-2.5, -1.5, -0.5, 0.5, 1.5, 2.5],
        "labelExpr": "'' + datum.value",
        "grid": false,
        "domainColor": "#868686",
        "tickColor": "#868686",
        "tickSize": 6,
        "labelFontSize": 20,
        "labelColor": "#000000",
        "labelPadding": 9,
        "labelFlush": false,
        "labelOverlap": false,
        "labelBound": false,
        "title": "Displacement (mm)",
        "titleFontSize": 20,
        "titleFontWeight": "normal",
        "titleColor": "#000000",
        "titleX": 451,
        "titleY": 263,
        "titleAlign": "center",
        "titleBaseline": "alphabetic"
      }
    },
    "y": {
      "field": "y",
      "type": "quantitative",
      "scale": {"domain": [-250, 250], "nice": false, "zero": false},
      "axis": {
        "orient": "left",
        "offset": -444.5,
        "values": [-250, -200, -150, -100, -50, 0, 50, 100, 150, 200, 250],
        "labelExpr": "'' + datum.value",
        "grid": false,
        "domainColor": "#868686",
        "tickColor": "#868686",
        "tickSize": 6,
        "labelFontSize": 20,
        "labelColor": "#000000",
        "labelPadding": 13,
        "labelFlush": false,
        "labelOverlap": false,
        "labelBound": false,
        "title": "Force (N)",
        "titleFontSize": 20,
        "titleFontWeight": "normal",
        "titleColor": "#000000",
        "titleAngle": -90,
        "titleX": -473,
        "titleY": 276.5,
        "titleAlign": "center",
        "titleBaseline": "middle"
      }
    }
  },
  "layer": [
    {
      "data": {"name": "exp"},
      "mark": {"type": "line", "strokeWidth": 2.2, "interpolate": "linear"},
      "encoding": {
        "order": {"value": null},
        "color": {
          "datum": "Experimental",
          "scale": {"domain": ["Experimental", "Predicted"], "range": ["#1F4A80", "#C0504D"]},
          "legend": {
            "orient": "none",
            "legendX": 49,
            "legendY": 24,
            "title": null,
            "padding": 0,
            "symbolType": "M-2,0H2",
            "symbolSize": 1156,
            "symbolStrokeWidth": 2.4,
            "labelFontSize": 20,
            "labelColor": "#000000",
            "labelOffset": 22,
            "rowPadding": 2,
            "encode": {
              "symbols": {
                "update": {
                  "shape": [
                    {"test": "datum.value === 'Experimental'", "value": "M-2,0H2M-0.16,-0.16H0.16V0.16H-0.16Z"},
                    {"value": "M-1.9,0H1.9"}
                  ],
                  "fill": [
                    {"test": "datum.value === 'Experimental'", "value": "#4A7EBB"},
                    {"value": "transparent"}
                  ],
                  "strokeDash": [
                    {"test": "datum.value === 'Predicted'", "value": [8, 5]},
                    {"value": [1, 0]}
                  ]
                }
              }
            }
          }
        }
      }
    },
    {
      "data": {"name": "exp"},
      "mark": {"type": "point", "shape": "square", "filled": true, "size": 50, "color": "#4A7EBB", "opacity": 1}
    },
    {
      "data": {"name": "pred"},
      "mark": {"type": "line", "strokeWidth": 2.2, "strokeDash": [8, 5], "interpolate": "catmull-rom"},
      "encoding": {
        "order": {"value": null},
        "color": {"datum": "Predicted"}
      }
    }
  ]
}
